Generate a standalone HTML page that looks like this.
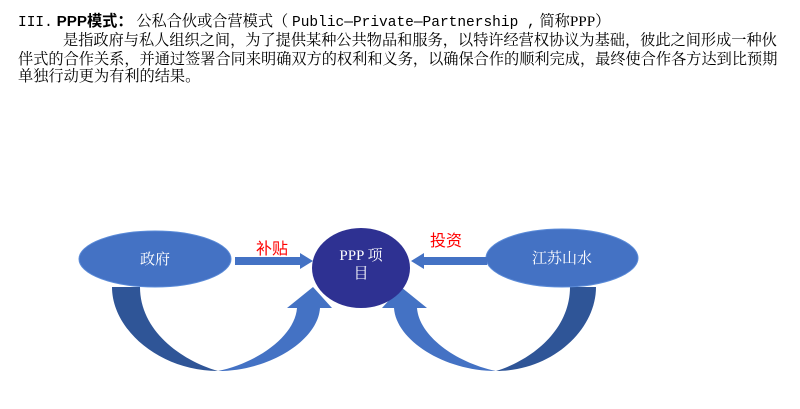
<!DOCTYPE html>
<html><head><meta charset="utf-8">
<style>
body{margin:0;width:800px;height:409px;background:#fff;overflow:hidden;position:relative;font-family:"Liberation Serif","Noto Serif CJK SC",serif;color:#000}
.t{position:absolute;left:18px;font-size:15.2px;line-height:18px;white-space:nowrap}
.m{font-family:"Liberation Mono","Noto Serif CJK SC",monospace;font-size:14.5px}
svg{position:absolute;left:0;top:0}
</style></head><body>
<div class="t" style="top:13px"><span class="m">III.</span> <b style="font-family:'Liberation Sans','Noto Sans CJK SC',sans-serif">PPP模式：</b> 公私合伙或合营模式（ <span class="m">Public—Private—Partnership ,</span> 简称PPP）</div>
<div class="t" style="top:32px;left:63px">是指政府与私人组织之间，为了提供某种公共物品和服务，以特许经营权协议为基础，彼此之间形成一种伙</div>
<div class="t" style="top:51px">伴式的合作关系，并通过签署合同来明确双方的权利和义务，以确保合作的顺利完成，最终使合作各方达到比预期</div>
<div class="t" style="top:68px">单独行动更为有利的结果。</div>
<svg width="800" height="409" viewBox="0 0 800 409">
<path d="M112,287 C112,330 160,371 218,371 C180,360 140,330 140,287 Z" fill="#2F5597"/>
<path d="M218,371 C270,371 318,340 320,308 L332,308 L313,287 L287,308 L297,308 C295,335 260,362 218,371 Z" fill="#4472C4"/>
<path d="M596,287 C596,330 552,371 496,371 C532,360 570,330 570,287 Z" fill="#2F5597"/>
<path d="M496,371 C444,371 396,340 394,308 L382,308 L401,287 L427,308 L417,308 C419,335 454,362 496,371 Z" fill="#4472C4"/>
<ellipse cx="155" cy="259" rx="76" ry="28" fill="#4472C4" stroke="#5B8BD8" stroke-width="1"/>
<ellipse cx="562" cy="258" rx="76" ry="29" fill="#4472C4" stroke="#5B8BD8" stroke-width="1"/>
<ellipse cx="361" cy="268" rx="49" ry="40" fill="#2E3192"/>
<path d="M235,257 L300,257 L300,253 L313,261 L300,269 L300,265 L235,265 Z" fill="#4472C4"/>
<path d="M487,257 L424,257 L424,253 L411,261 L424,269 L424,265 L487,265 Z" fill="#4472C4"/>
<g font-family="Liberation Serif,Noto Serif CJK SC,serif" fill="#fff" font-size="15" text-anchor="middle">
<text x="155" y="264">政府</text>
<text x="562" y="263">江苏山水</text>
<text x="361" y="260">PPP 项</text>
<text x="361" y="278">目</text>
</g>
<g font-family="Liberation Sans,Noto Sans CJK SC,sans-serif" fill="#FF0000" font-size="16" text-anchor="middle">
<text x="272" y="254">补贴</text>
<text x="446" y="246">投资</text>
</g>
</svg>
</body></html>
